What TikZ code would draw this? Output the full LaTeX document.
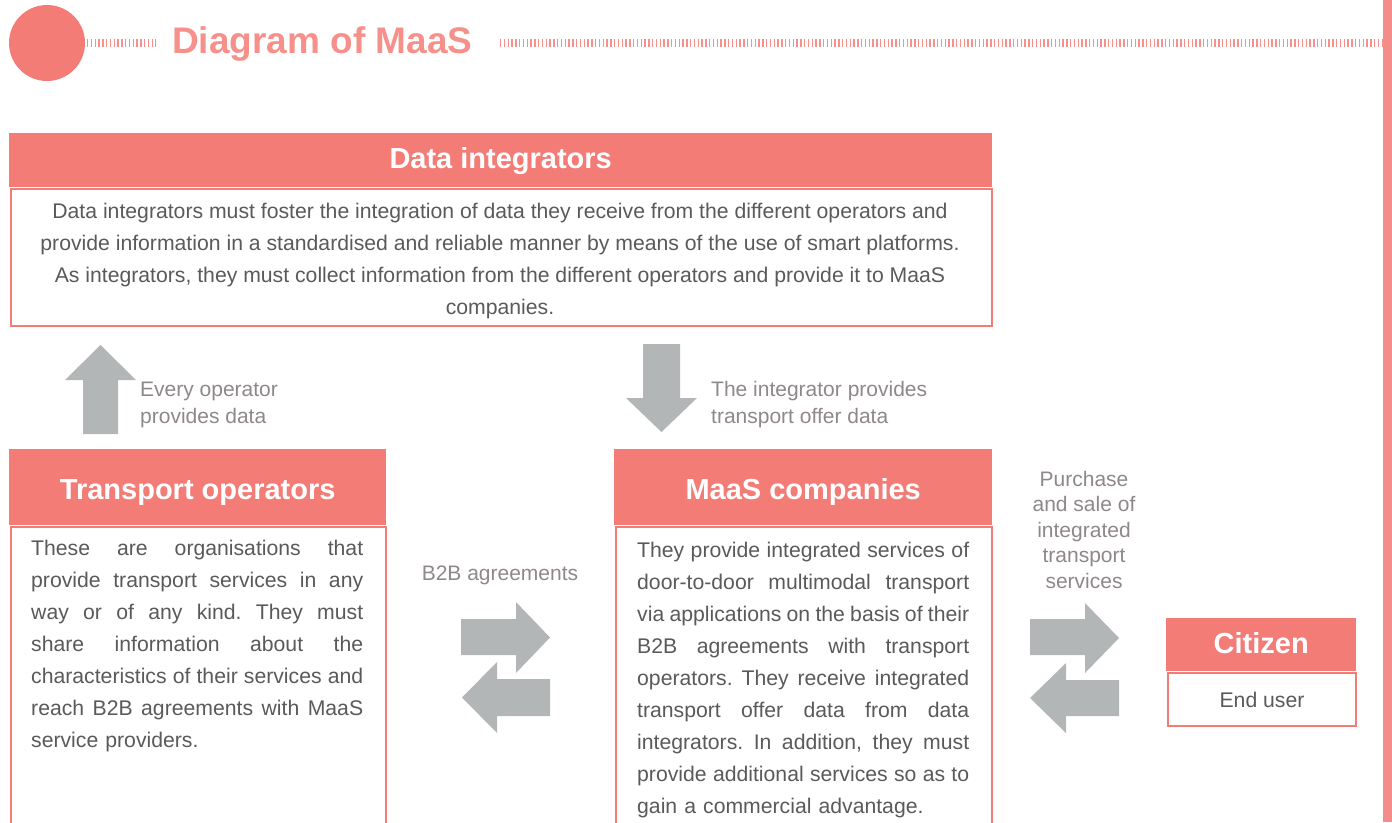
\documentclass[tikz,border=0pt]{standalone}
\usepackage{fontspec}
\setmainfont{Liberation Sans}
\definecolor{salmon}{HTML}{F37C77}
\definecolor{titlepink}{HTML}{F6908A}
\definecolor{tickpink}{HTML}{F6908A}
\definecolor{barpink}{HTML}{F48C88}
\definecolor{arrowgray}{HTML}{B3B6B6}
\definecolor{bodytext}{HTML}{5A5A5A}
\definecolor{labelgray}{HTML}{8E878C}
\newcommand{\jl}[1]{\leavevmode\hbox to 332pt{\spaceskip=\fontdimen2\font plus 1fil minus 0.15em\xspaceskip=\spaceskip #1}}
\begin{document}
\begin{tikzpicture}[x=1pt,y=-1pt,
  hdr/.style={fill=salmon, draw=none, text=white, inner sep=0pt,
    font=\fontsize{29}{34}\selectfont\bfseries, anchor=north west,
    text height=21pt, text depth=0pt},
  bodybox/.style={draw=salmon, line width=2pt, fill=white, inner sep=0pt, anchor=north west},
  bodytxt/.style={text=bodytext, inner sep=0pt, font=\fontsize{21.2}{32}\selectfont\frenchspacing},
  lbl/.style={text=labelgray, inner sep=0pt, font=\fontsize{21}{27}\selectfont},
  blockarrow/.style={fill=arrowgray, draw=none},
  ticks/.style={draw=tickpink, line width=8pt, dash pattern=on 1.4pt off 2.4pt}
]
\useasboundingbox (0,0) rectangle (1392,822);

% title bar
\fill[salmon] (47,43) circle (38);
\coordinate (tl1) at (87,43);
\coordinate (tl2) at (156,43);
\coordinate (tr1) at (500,43);
\coordinate (tr2) at (1383,43);
\draw[ticks] (tl1) -- (tl2);
\draw[ticks] (tr1) -- (tr2);
\node[anchor=base west, inner sep=0pt, text=titlepink,
  font=\fontsize{37}{40}\selectfont\bfseries] (title) at (172,53) {Diagram of MaaS};
\fill[barpink] (1383,0) rectangle (1392,822);

% Data integrators
\node[hdr, minimum width=983pt, minimum height=54pt, text depth=4pt] (dih) at (9,133) {Data integrators};
\node[bodybox, minimum width=981pt, minimum height=137pt] (dib) at (10,188) {};
\node[bodytxt, align=center, anchor=north] (dit) at (500,203)
 {Data integrators must foster the integration of data they receive from the different operators and\\
  provide information in a standardised and reliable manner by means of the use of smart platforms.\\
  As integrators, they must collect information from the different operators and provide it to MaaS\\
  companies.};

% Up arrow
\fill[blockarrow] (83,434) -- (83,380) -- (65,380) -- (100.5,345) -- (136,380) -- (118,380) -- (118,434) -- cycle;
\node[lbl, align=left, anchor=north west] (lup) at (140,382) {Every operator\\provides data};

% Down arrow
\fill[blockarrow] (643,344) -- (680,344) -- (680,398) -- (697,398) -- (661.5,432) -- (626,398) -- (643,398) -- cycle;
\node[lbl, align=left, anchor=north west] (ldown) at (711,381) {The integrator provides\\transport offer data};

% Transport operators
\node[hdr, minimum width=377pt, minimum height=76pt, text height=25pt] (toh) at (9,449) {Transport operators};
\node[bodybox, minimum width=375pt, minimum height=320pt] (tob) at (10,526) {};
\node[bodytxt, align=left, text width=332pt, anchor=north west] (tot) at (31,540)
 {\jl{These are organisations that}\\
  \jl{provide transport services in any}\\
  \jl{way or of any kind. They must}\\
  \jl{share information about the}\\
  \jl{characteristics of their services and}\\
  \jl{reach B2B agreements with MaaS}\\
  service providers.};

% B2B arrows
\node[lbl, anchor=base] (lb2b) at (500,580) {B2B agreements};
\fill[blockarrow] (461,619) -- (516,619) -- (516,602) -- (550,637.5) -- (516,673) -- (516,655) -- (461,655) -- cycle;
\fill[blockarrow] (550,679) -- (497,679) -- (497,662) -- (462,697.5) -- (497,733) -- (497,716) -- (550,716) -- cycle;

% MaaS companies
\node[hdr, minimum width=378pt, minimum height=76pt, text height=25pt] (mch) at (614,449) {MaaS companies};
\node[bodybox, minimum width=376pt, minimum height=320pt] (mcb) at (615,526) {};
\node[bodytxt, align=left, text width=332pt, anchor=north west] (mct) at (637,542)
 {\jl{They provide integrated services of}\\
  \jl{door-to-door multimodal transport}\\
  \jl{via applications on the basis of their}\\
  \jl{B2B agreements with transport}\\
  \jl{operators. They receive integrated}\\
  \jl{transport offer data from data}\\
  \jl{integrators. In addition, they must}\\
  \jl{provide additional services so as to}\\
  gain a commercial advantage.};

% Purchase arrows
\node[lbl, align=center, anchor=north, font=\fontsize{21}{25.5}\selectfont] (lpur) at (1084,471)
 {Purchase\\and sale of\\integrated\\transport\\services};
\fill[blockarrow] (1030,619) -- (1085,619) -- (1085,603) -- (1119,638) -- (1085,673) -- (1085,655) -- (1030,655) -- cycle;
\fill[blockarrow] (1119,680) -- (1066,680) -- (1066,663) -- (1030,698) -- (1066,733) -- (1066,716) -- (1119,716) -- cycle;

% Citizen
\node[hdr, minimum width=190pt, minimum height=53pt, text depth=3pt] (cih) at (1166,618) {Citizen};
\node[bodybox, minimum width=188pt, minimum height=53pt] (cib) at (1167,672) {};
\node[bodytxt] (cit) at (cib.center) {End user};
\end{tikzpicture}
\end{document}
